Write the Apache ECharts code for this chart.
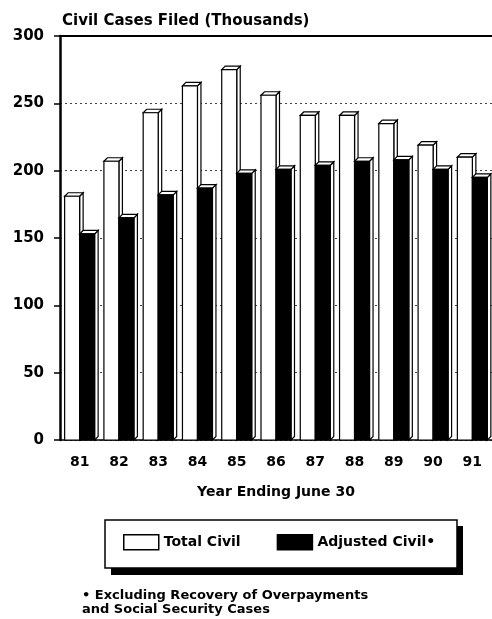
<!DOCTYPE html>
<html>
<head>
<meta charset="utf-8">
<script src="https://cdn.jsdelivr.net/npm/echarts@6/dist/echarts.min.js"></script>
<style>
html,body{margin:0;padding:0;background:#fff;}
#chart{width:492px;height:619px;}
</style>
</head>
<body>
<div id="chart"></div>
<script>
const categories = ['81','82','83','84','85','86','87','88','89','90','91'];
const totalCivil = [181, 207, 243, 263, 275, 256, 241, 241, 235, 219, 210];
const adjustedCivil = [153, 165, 182, 187, 198, 201, 204, 207, 208, 201, 195];
const yTicks = [0, 50, 100, 150, 200, 250, 300];

const FONT = 'DejaVu Sans';
const chart = echarts.init(document.getElementById('chart'));

function makeRender(side, fill) {
  return function (params, api) {
    const cat = api.value(0);
    const val = api.value(1);
    const top = api.coord([cat, val]);
    const base = api.coord([cat, 0]);
    const bw = 15, d = 3.5;
    const x0 = side < 0 ? top[0] - bw : top[0];
    const x1 = x0 + bw;
    const yt = top[1], yb = base[1];
    const st = {stroke: '#000', lineWidth: 1.2};
    return {
      type: 'group',
      children: [
        {type: 'polygon', shape: {points: [[x1, yt], [x1 + d, yt - d], [x1 + d, yb - d], [x1, yb]]},
         style: Object.assign({fill: '#fff'}, st)},
        {type: 'polygon', shape: {points: [[x0, yt], [x0 + d, yt - d], [x1 + d, yt - d], [x1, yt]]},
         style: Object.assign({fill: '#fff'}, st)},
        {type: 'rect', shape: {x: x0, y: yt, width: bw, height: yb - yt},
         style: Object.assign({fill: fill}, st)}
      ]
    };
  };
}

const option = {
  backgroundColor: '#fff',
  animation: false,
  title: {
    text: 'Civil Cases Filed (Thousands)',
    left: 57, top: 9,
    textStyle: {fontFamily: FONT, fontWeight: 'bold', fontSize: 15, color: '#000'}
  },
  grid: {left: 60, top: 36, width: 440, height: 404},
  legend: {
    left: 118, top: 529,
    itemWidth: 35, itemHeight: 15, itemGap: 36,
    z: 10,
    textStyle: {fontFamily: FONT, fontWeight: 'bold', fontSize: 14, color: '#000'},
    data: [
      {name: 'Total Civil', icon: 'rect', itemStyle: {color: '#fff', borderColor: '#000', borderWidth: 1.5}},
      {name: 'Adjusted Civil•', icon: 'rect', itemStyle: {color: '#000', borderColor: '#000', borderWidth: 1.5}}
    ]
  },
  xAxis: [{
    type: 'category',
    data: categories,
    name: 'Year Ending June 30',
    nameLocation: 'middle',
    nameGap: 45,
    nameTextStyle: {fontFamily: FONT, fontWeight: 'bold', fontSize: 14, color: '#000'},
    axisLine: {lineStyle: {color: '#000', width: 1.5}},
    axisTick: {alignWithLabel: true, length: 6, lineStyle: {color: '#000', width: 1.5}},
    axisLabel: {fontFamily: FONT, fontWeight: 'bold', fontSize: 14, color: '#000', margin: 15}
  }, {
    type: 'category',
    data: categories,
    position: 'top',
    axisLine: {show: true, lineStyle: {color: '#000', width: 2}},
    axisTick: {show: false},
    axisLabel: {show: false}
  }],
  yAxis: {
    type: 'value',
    min: 0, max: 300, interval: 50,
    axisLine: {show: true, lineStyle: {color: '#000', width: 2.5}},
    axisTick: {show: true, length: 6, lineStyle: {color: '#000', width: 1.5}},
    axisLabel: {fontFamily: FONT, fontWeight: 'bold', fontSize: 15, color: '#000', margin: 16,
      formatter: function (v) { return yTicks.indexOf(v) >= 0 ? String(v) : ''; }},
    splitLine: {show: true, lineStyle: {color: '#444', type: [2, 3], width: 1}}
  },
  graphic: [
    {type: 'rect', z: 1, shape: {x: 111, y: 526, width: 352, height: 49}, style: {fill: '#000'}},
    {type: 'rect', z: 2, shape: {x: 105, y: 520, width: 352, height: 48}, style: {fill: '#fff', stroke: '#000', lineWidth: 1.5}},
    {type: 'text', z: 2, left: 82, top: 589, style: {
      text: '• Excluding Recovery of Overpayments\nand Social Security Cases',
      font: 'bold 13px "DejaVu Sans"', fill: '#000', lineHeight: 14}}
  ],
  series: [
    {name: 'Total Civil', type: 'custom', renderItem: makeRender(-1, '#fff'),
     itemStyle: {color: '#fff', borderColor: '#000'},
     encode: {x: 0, y: 1},
     data: categories.map((c, i) => [i, totalCivil[i]])},
    {name: 'Adjusted Civil•', type: 'custom', renderItem: makeRender(1, '#000'),
     itemStyle: {color: '#000'},
     encode: {x: 0, y: 1},
     data: categories.map((c, i) => [i, adjustedCivil[i]])}
  ]
};
chart.setOption(option);
</script>
</body>
</html>
